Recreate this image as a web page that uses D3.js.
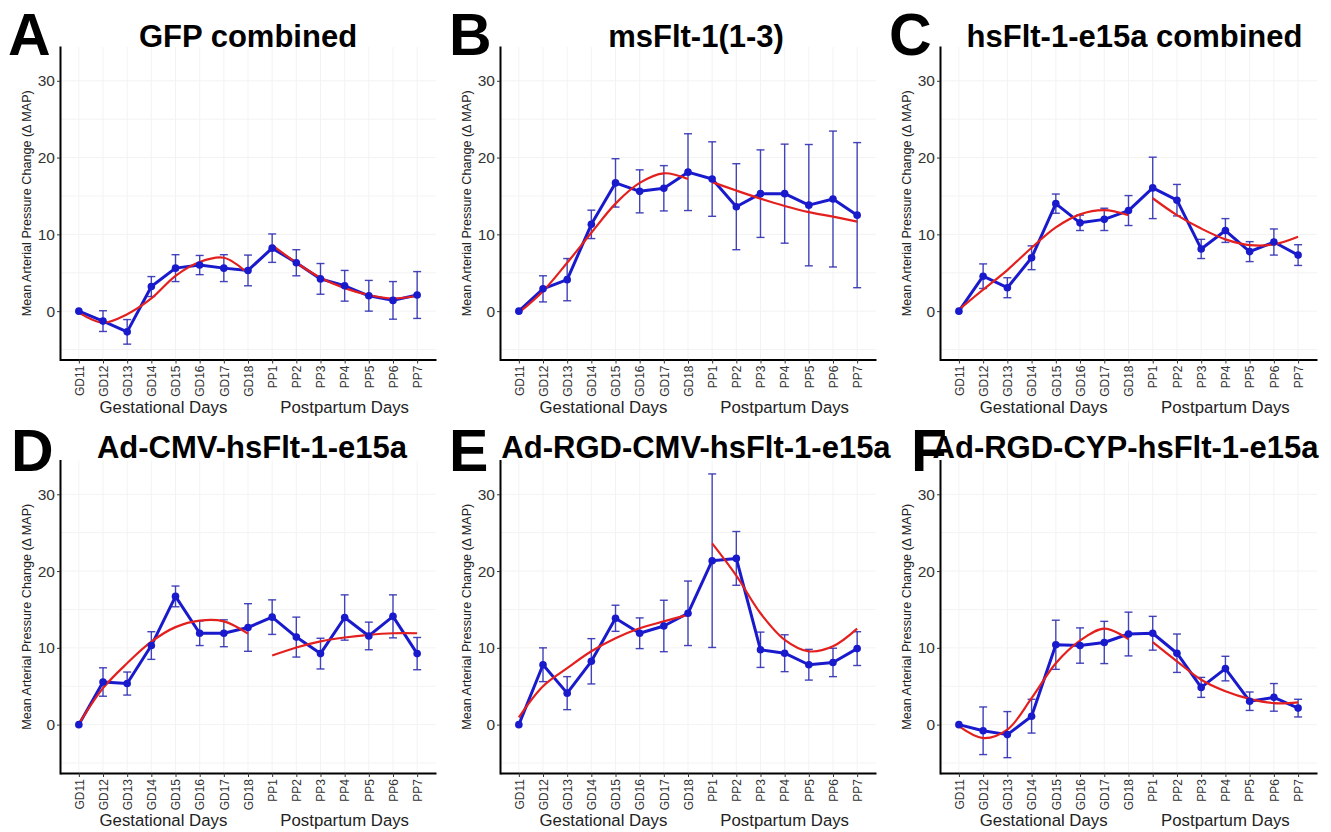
<!DOCTYPE html>
<html><head><meta charset="utf-8">
<script src="https://cdn.jsdelivr.net/npm/d3@7"></script>
<style>
body{margin:0;background:#fff}
svg{display:block}
text{font-family:"Liberation Sans",Arial,Helvetica,sans-serif}
</style>
</head><body>
<svg id="chart" width="1331" height="832"></svg>
<script>
// ---------- data ----------
const days = ["GD11","GD12","GD13","GD14","GD15","GD16","GD17","GD18","PP1","PP2","PP3","PP4","PP5","PP6","PP7"];
const gestDays = ["GD11","GD12","GD13","GD14","GD15","GD16","GD17","GD18"];
const ppDays = ["PP1","PP2","PP3","PP4","PP5","PP6","PP7"];
const yTicks = [0, 10, 20, 30];
const groupLabels = ["Gestational Days", "Postpartum Days"];
const yLabel = "Mean Arterial Pressure Change (\u0394 MAP)";

// A: GFP combined
const gfpMean  = [0, -1.3, -2.7, 3.2, 5.6, 6.0, 5.6, 5.3, 8.2, 6.3, 4.2, 3.3, 2.0, 1.4, 2.1];
const gfpErr   = [0, 1.35, 1.6, 1.3, 1.75, 1.25, 1.75, 2.0, 1.85, 1.7, 2.0, 2.0, 2.0, 2.45, 3.05];
const gfpFitGD = [-0.2, -1.5, -0.4, 1.65, 4.6, 6.4, 6.95, 4.9];
const gfpFitPP = [8.6, 6.3, 4.35, 3.0, 2.1, 1.65, 2.0];

// B: msFlt-1(1-3)
const msMean  = [0, 2.9, 4.1, 11.3, 16.7, 15.6, 16.0, 18.1, 17.2, 13.6, 15.3, 15.3, 13.8, 14.6, 12.5];
const msErr   = [0, 1.7, 2.75, 1.85, 3.15, 2.8, 2.95, 5.0, 4.85, 5.6, 5.7, 6.45, 7.9, 8.85, 9.45];
const msFitGD = [-0.2, 2.6, 6.3, 10.2, 14.0, 16.7, 17.95, 17.2];
const msFitPP = [16.8, 15.7, 14.65, 13.7, 12.9, 12.3, 11.65];

// C: hsFlt-1-e15a combined
const hsMean  = [0, 4.55, 3.05, 6.95, 14.0, 11.5, 11.95, 13.1, 16.05, 14.45, 8.1, 10.5, 7.75, 9.0, 7.3];
const hsErr   = [0, 1.6, 1.3, 1.55, 1.25, 1.0, 1.45, 1.95, 4.0, 2.05, 1.25, 1.55, 1.3, 1.7, 1.35];
const hsFitGD = [0.2, 2.8, 5.35, 8.25, 10.9, 12.6, 13.15, 12.5];
const hsFitPP = [14.7, 12.5, 10.75, 9.35, 8.6, 8.7, 9.7];

// D: Ad-CMV-hsFlt-1-e15a
const cmvMean  = [0, 5.55, 5.35, 10.3, 16.7, 11.9, 11.9, 12.65, 14.0, 11.4, 9.25, 13.95, 11.55, 14.1, 9.25];
const cmvErr   = [0, 1.85, 1.5, 1.8, 1.35, 1.6, 1.75, 3.1, 2.25, 2.6, 2.0, 2.95, 1.8, 2.8, 2.1];
const cmvFitGD = [0.1, 4.75, 8.0, 10.8, 12.7, 13.55, 13.45, 11.85];
const cmvFitPP = [9.0, 10.05, 10.85, 11.35, 11.7, 11.9, 11.9];

// E: Ad-RGD-CMV-hsFlt-1-e15a
const rgdCmvMean  = [0, 7.8, 4.1, 8.25, 13.85, 11.9, 12.85, 14.5, 21.35, 21.65, 9.75, 9.3, 7.8, 8.1, 9.9];
const rgdCmvErr   = [0, 2.2, 2.15, 2.95, 1.7, 2.0, 3.35, 4.2, 11.3, 3.5, 2.3, 2.4, 2.0, 1.85, 2.2];
const rgdCmvFitGD = [0.95, 5.0, 7.35, 9.55, 11.25, 12.55, 13.45, 14.3];
const rgdCmvFitPP = [23.6, 19.4, 14.5, 11.05, 9.55, 10.2, 12.5];

// F: Ad-RGD-CYP-hsFlt-1-e15a
const rgdCypMean  = [0, -0.8, -1.3, 1.1, 10.4, 10.3, 10.7, 11.8, 11.9, 9.3, 4.85, 7.3, 3.05, 3.55, 2.15];
const rgdCypErr   = [0, 3.1, 3.0, 2.2, 3.2, 2.3, 2.75, 2.85, 2.2, 2.5, 1.3, 1.6, 1.2, 1.8, 1.15];
const rgdCypFitGD = [-0.2, -1.75, -0.65, 3.45, 8.0, 10.95, 12.5, 11.15];
const rgdCypFitPP = [10.75, 8.25, 5.85, 4.35, 3.35, 2.8, 2.9];

const panels = [
  {letter:"A", title:"GFP combined",             mean:gfpMean,    err:gfpErr,    fitGD:gfpFitGD,    fitPP:gfpFitPP},
  {letter:"B", title:"msFlt-1(1-3)",             mean:msMean,     err:msErr,     fitGD:msFitGD,     fitPP:msFitPP},
  {letter:"C", title:"hsFlt-1-e15a combined",    mean:hsMean,     err:hsErr,     fitGD:hsFitGD,     fitPP:hsFitPP},
  {letter:"D", title:"Ad-CMV-hsFlt-1-e15a",      mean:cmvMean,    err:cmvErr,    fitGD:cmvFitGD,    fitPP:cmvFitPP},
  {letter:"E", title:"Ad-RGD-CMV-hsFlt-1-e15a",  mean:rgdCmvMean, err:rgdCmvErr, fitGD:rgdCmvFitGD, fitPP:rgdCmvFitPP},
  {letter:"F", title:"Ad-RGD-CYP-hsFlt-1-e15a",  mean:rgdCypMean, err:rgdCypErr, fitGD:rgdCypFitGD, fitPP:rgdCypFitPP}
];

// ---------- layout ----------
const colX   = [60, 500, 940];
const colEnd = [436, 876, 1317];
const rowBottom = [359.5, 773];
const rowTop    = [47, 460.5];
const letterX = [[8, 449, 889], [11, 449, 911]];
const letterY = [55, 471];
const titleY  = [47, 458];
const titleDx = [[0, 8, 6], [4, 8, -3]];

const BLUE = "#1a1acd", ERR = "#3030b4", RED = "#e3201e";
const svg = d3.select("#chart");

panels.forEach((p, i) => {
  const r = Math.floor(i / 3), c = i % 3;
  const x = d3.scalePoint().domain(days).range([colX[c], colEnd[c]]).padding(0.78);
  const y = d3.scaleLinear().domain([-6.3, 34.4]).range([rowBottom[r], rowTop[r]]);
  const g = svg.append("g");

  // faint grid
  const grid = g.append("g").attr("stroke", "#f3f3f3").attr("stroke-width", 1);
  grid.selectAll("line.v").data(days).join("line")
    .attr("x1", d => x(d)).attr("x2", d => x(d))
    .attr("y1", rowTop[r]).attr("y2", rowBottom[r]);
  grid.selectAll("line.h").data(d3.range(-5, 35, 5)).join("line")
    .attr("x1", colX[c]).attr("x2", colEnd[c])
    .attr("y1", d => y(d)).attr("y2", d => y(d));

  // axes
  const xa = g.append("g").attr("transform", `translate(0,${rowBottom[r]})`)
    .call(d3.axisBottom(x).tickSize(4).tickSizeOuter(0));
  xa.select(".domain").attr("stroke", "#000").attr("stroke-width", 2);
  xa.selectAll(".tick line").attr("stroke", "#333");
  xa.selectAll(".tick text")
    .attr("transform", "rotate(-90)")
    .attr("x", -6).attr("y", 0).attr("dy", "0.35em")
    .attr("text-anchor", "end")
    .attr("fill", "#333")
    .style("font-size", "12px");

  const ya = g.append("g").attr("transform", `translate(${colX[c]},0)`)
    .call(d3.axisLeft(y).tickValues(yTicks).tickSize(3).tickSizeOuter(0).tickPadding(2));
  ya.select(".domain").attr("stroke", "#000").attr("stroke-width", 2).attr("stroke-linecap", "square");
  ya.selectAll(".tick line").attr("stroke", "#333");
  ya.selectAll(".tick text").attr("fill", "#333").style("font-size", "15.5px");

  // y label
  g.append("text")
    .attr("transform", `translate(${colX[c] - 33},${(rowTop[r] + rowBottom[r]) / 2}) rotate(-90)`)
    .attr("text-anchor", "middle").attr("dy", "0.35em")
    .attr("fill", "#222").style("font-size", "12.6px")
    .text(yLabel);

  // group labels
  const gCenter = d3.mean(gestDays, d => x(d));
  const pCenter = d3.mean(ppDays, d => x(d));
  [gCenter, pCenter].forEach((cx, k) => {
    g.append("text").attr("x", cx).attr("y", rowBottom[r] + 53)
      .attr("text-anchor", "middle").attr("fill", "#222")
      .style("font-size", "16.8px").text(groupLabels[k]);
  });

  // error bars
  const eb = g.append("g").attr("stroke", ERR).attr("stroke-width", 1.4).attr("stroke-opacity", 0.9);
  days.forEach((d, j) => {
    const e = p.err[j];
    if (!e) return;
    const cx = x(d), y1 = y(p.mean[j] - e), y2 = y(p.mean[j] + e);
    eb.append("line").attr("x1", cx).attr("x2", cx).attr("y1", y1).attr("y2", y2);
    eb.append("line").attr("x1", cx - 4).attr("x2", cx + 4).attr("y1", y1).attr("y2", y1);
    eb.append("line").attr("x1", cx - 4).attr("x2", cx + 4).attr("y1", y2).attr("y2", y2);
  });

  // blue connecting line
  const line = d3.line().x((d, j) => x(days[j])).y(d => y(d));
  g.append("path").datum(p.mean).attr("d", line)
    .attr("fill", "none").attr("stroke", BLUE).attr("stroke-width", 3).attr("stroke-linejoin", "round");

  // red fits
  const fitLine = cats => d3.line().curve(d3.curveCatmullRom.alpha(0.5))
    .x((d, j) => x(cats[j])).y(d => y(d));
  g.append("path").datum(p.fitGD).attr("d", fitLine(gestDays))
    .attr("fill", "none").attr("stroke", RED).attr("stroke-width", 2.2);
  g.append("path").datum(p.fitPP).attr("d", fitLine(ppDays))
    .attr("fill", "none").attr("stroke", RED).attr("stroke-width", 2.2);

  // points
  g.selectAll("circle").data(p.mean).join("circle")
    .attr("cx", (d, j) => x(days[j])).attr("cy", d => y(d)).attr("r", 3.8)
    .attr("fill", BLUE);

  // title
  g.append("text").attr("x", (colX[c] + colEnd[c]) / 2 + titleDx[r][c]).attr("y", titleY[r])
    .attr("text-anchor", "middle").attr("font-weight", "bold").attr("fill", "#000")
    .style("font-size", "31px").text(p.title);

  // panel letter
  g.append("text").attr("x", letterX[r][c]).attr("y", letterY[r])
    .attr("font-weight", "bold").attr("fill", "#000")
    .style("font-size", "59px").text(p.letter);
});
</script>
</body></html>
